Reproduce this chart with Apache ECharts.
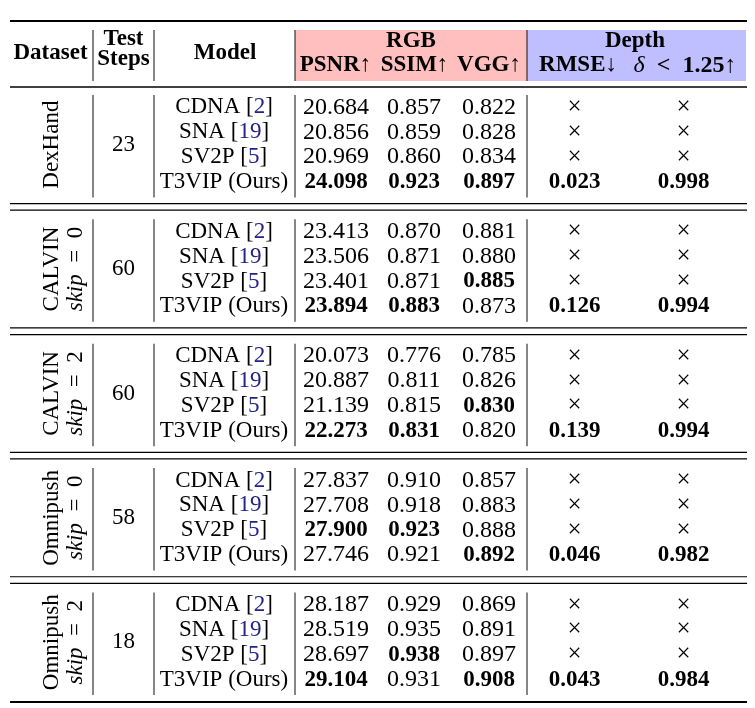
<!DOCTYPE html>
<html><head><meta charset="utf-8">
<script src="https://cdn.jsdelivr.net/npm/echarts@6/dist/echarts.min.js"></script>
<style>html,body{margin:0;padding:0;background:#fff}#c{width:755px;height:708px}</style>
</head><body><div id="c"></div>
<script>
// ---------------- data ----------------
const datasets = ['DexHand', 'CALVIN', 'CALVIN', 'Omnipush', 'Omnipush'];
const skips = [null, 0, 2, 0, 2];
const testSteps = [23, 60, 60, 58, 18];
const models = ['CDNA', 'SNA', 'SV2P', 'T3VIP (Ours)'];
const modelRefs = ['2', '19', '5', null];
const psnr = [
  [20.684, 20.856, 20.969, 24.098],
  [23.413, 23.506, 23.401, 23.894],
  [20.073, 20.887, 21.139, 22.273],
  [27.837, 27.708, 27.900, 27.746],
  [28.187, 28.519, 28.697, 29.104]
];
const ssim = [
  [0.857, 0.859, 0.860, 0.923],
  [0.870, 0.871, 0.871, 0.883],
  [0.776, 0.811, 0.815, 0.831],
  [0.910, 0.918, 0.923, 0.921],
  [0.929, 0.935, 0.938, 0.931]
];
const vgg = [
  [0.822, 0.828, 0.834, 0.897],
  [0.881, 0.880, 0.885, 0.873],
  [0.785, 0.826, 0.830, 0.820],
  [0.857, 0.883, 0.888, 0.892],
  [0.869, 0.891, 0.897, 0.908]
];
const rmse = [0.023, 0.126, 0.139, 0.046, 0.043];     // only T3VIP has depth
const deltaAcc = [0.998, 0.994, 0.994, 0.982, 0.984];
const headerCols = ['Dataset', 'Test', 'Steps', 'Model'];
const headerGroups = ['RGB', 'Depth'];
const metricHeaders = ['PSNR', 'SSIM', 'VGG', 'RMSE', '1.25'];

// ---------------- layout ----------------
const W = 755;
const L = { left: 10, right: 747, b1: 93, b2: 154, b3: 295, b4: 527,
  ds1: 51.5, ds2: 76, steps: 123.5, model: 224, psnr: 336, ssim: 414, vgg: 489, rmse: 574.5, delta: 683.5 };
const GRID_TOP = 94.9, BAND = 24.88;
const SERIF = '"Liberation Serif", "Times New Roman", serif';
const F = (w, s, st) => (st || '') + ' ' + (w || 'normal') + ' ' + s + 'px ' + SERIF;
const REG = F('normal', 23), NUM = F('normal', 24), BOLD = F('bold', 23), ITAL = F('normal', 23, 'italic');
const REFCOL = '#23238a';

const rowKeys = [];
datasets.forEach((d, s) => {
  for (let r = 0; r < 4; r++) rowKeys.push(s + '-' + r);
  if (s < datasets.length - 1) rowKeys.push('gap' + s);
});

function txt(x, y, text, font, extra) {
  return Object.assign({ type: 'text', x: x, y: y,
    style: { text: text, font: font, fill: '#000', align: 'center', verticalAlign: 'middle',
      textAlign: 'center', textVerticalAlign: 'middle' } }, extra || {});
}
function line(x1, y1, x2, y2, w, c) {
  return { type: 'line', shape: { x1: x1, y1: y1, x2: x2, y2: y2 }, style: { stroke: c || '#000', lineWidth: w } };
}

function renderSection(params, api) {
  const s = api.value(0);
  const base = s * 5;
  const band = api.size([0, 1])[1];
  const X = v => api.coord([v, base])[0];
  const Y = r => api.coord([0, base + r])[1];
  const top = Y(0) - band / 2, bottom = Y(3) + band / 2, mid = (Y(0) + Y(3)) / 2;
  const ch = [];
  [L.b1, L.b2, L.b3, L.b4].forEach(b => ch.push(line(X(b), top, X(b), bottom + 3, 1.1, '#222')));
  // dataset label (rotated)
  ch.push(txt(X(L.ds1), mid, datasets[s], REG, { rotation: Math.PI / 2 }));
  if (skips[s] !== null) {
    const t = txt(X(L.ds2), mid, '{i|skip}\u2002=\u2002' + skips[s], REG, { rotation: Math.PI / 2 });
    t.style.rich = { i: { font: ITAL, fill: '#000' } };
    ch.push(t);
  }
  ch.push(txt(X(L.steps), mid, String(testSteps[s]), REG));
  const maxP = Math.max(...psnr[s]), maxS = Math.max(...ssim[s]), maxV = Math.max(...vgg[s]);
  for (let r = 0; r < 4; r++) {
    const y = Y(r);
    const mt = txt(X(L.model), y, modelRefs[r] ? models[r] + ' [{c|' + modelRefs[r] + '}]' : models[r], REG);
    mt.style.rich = { c: { font: REG, fill: REFCOL } };
    ch.push(mt);
    ch.push(txt(X(L.psnr), y, psnr[s][r].toFixed(3), psnr[s][r] === maxP ? BOLD : NUM));
    ch.push(txt(X(L.ssim), y, ssim[s][r].toFixed(3), ssim[s][r] === maxS ? BOLD : NUM));
    ch.push(txt(X(L.vgg), y, vgg[s][r].toFixed(3), vgg[s][r] === maxV ? BOLD : NUM));
    if (r < 3) {
      ch.push(txt(X(L.rmse), y, '×', F('normal', 25)));
      ch.push(txt(X(L.delta), y, '×', F('normal', 25)));
    } else {
      ch.push(txt(X(L.rmse), y, rmse[s].toFixed(3), BOLD));
      ch.push(txt(X(L.delta), y, deltaAcc[s].toFixed(3), BOLD));
    }
  }
  if (s < datasets.length - 1) {
    const gy = api.coord([0, base + 4])[1];
    ch.push(line(X(L.left), gy - 3.3, X(L.right), gy - 3.3, 1.2));
    ch.push(line(X(L.left), gy + 3.3, X(L.right), gy + 3.3, 1.2));
  } else {
    ch.push(line(X(L.left), bottom + 10, X(L.right), bottom + 10, 2));
  }
  return { type: 'group', children: ch };
}

// header graphic (layout only)
const hdr = [];
hdr.push({ type: 'rect', shape: { x: L.b3, y: 30, width: L.b4 - L.b3, height: 51 }, style: { fill: '#FFBFBF' } });
hdr.push({ type: 'rect', shape: { x: L.b4, y: 30, width: 746 - L.b4, height: 51 }, style: { fill: '#BFBFFF' } });
hdr.push(line(L.left, 21, L.right, 21, 2));
hdr.push(line(L.left, 87, L.right, 87, 1.4));
[L.b1, L.b2, L.b3, L.b4].forEach(b => hdr.push(line(b, 30, b, 81, 1.1, '#222')));
hdr.push(txt(50.5, 52.8, headerCols[0], BOLD));
hdr.push(txt(L.steps, 39, headerCols[1], BOLD));
hdr.push(txt(L.steps, 59.5, headerCols[2], BOLD));
hdr.push(txt(225, 52.8, headerCols[3], BOLD));
hdr.push(txt(411, 41.5, headerGroups[0], BOLD));
hdr.push(txt(635, 41.5, headerGroups[1], BOLD));
hdr.push(txt(335.5, 65.5, metricHeaders[0] + '↑', BOLD));
hdr.push(txt(414.5, 65.5, metricHeaders[1] + '↑', BOLD));
hdr.push(txt(489, 65.5, metricHeaders[2] + '↑', BOLD));
hdr.push(txt(578, 65.5, metricHeaders[3] + '↓', BOLD));
const dh = txt(685, 65.5, '{i|δ}\u2002<\u2002' + metricHeaders[4] + '↑', F('bold', 24));
dh.style.rich = { i: { font: F('normal', 24, 'italic'), fill: '#000' } };
hdr.push(dh);

const chart = echarts.init(document.getElementById('c'), null, { renderer: 'canvas' });
chart.setOption({
  animation: false,
  backgroundColor: '#fff',
  grid: { left: 0, right: 0, top: GRID_TOP, height: BAND * rowKeys.length },
  xAxis: { type: 'value', min: 0, max: W, show: false },
  yAxis: { type: 'category', inverse: true, show: false, data: rowKeys },
  graphic: { elements: hdr },
  series: [{
    type: 'custom',
    clip: false,
    renderItem: renderSection,
    encode: { x: 1, y: 0 },
    data: datasets.map((d, s) => [s, 0])
  }]
});
</script></body></html>
